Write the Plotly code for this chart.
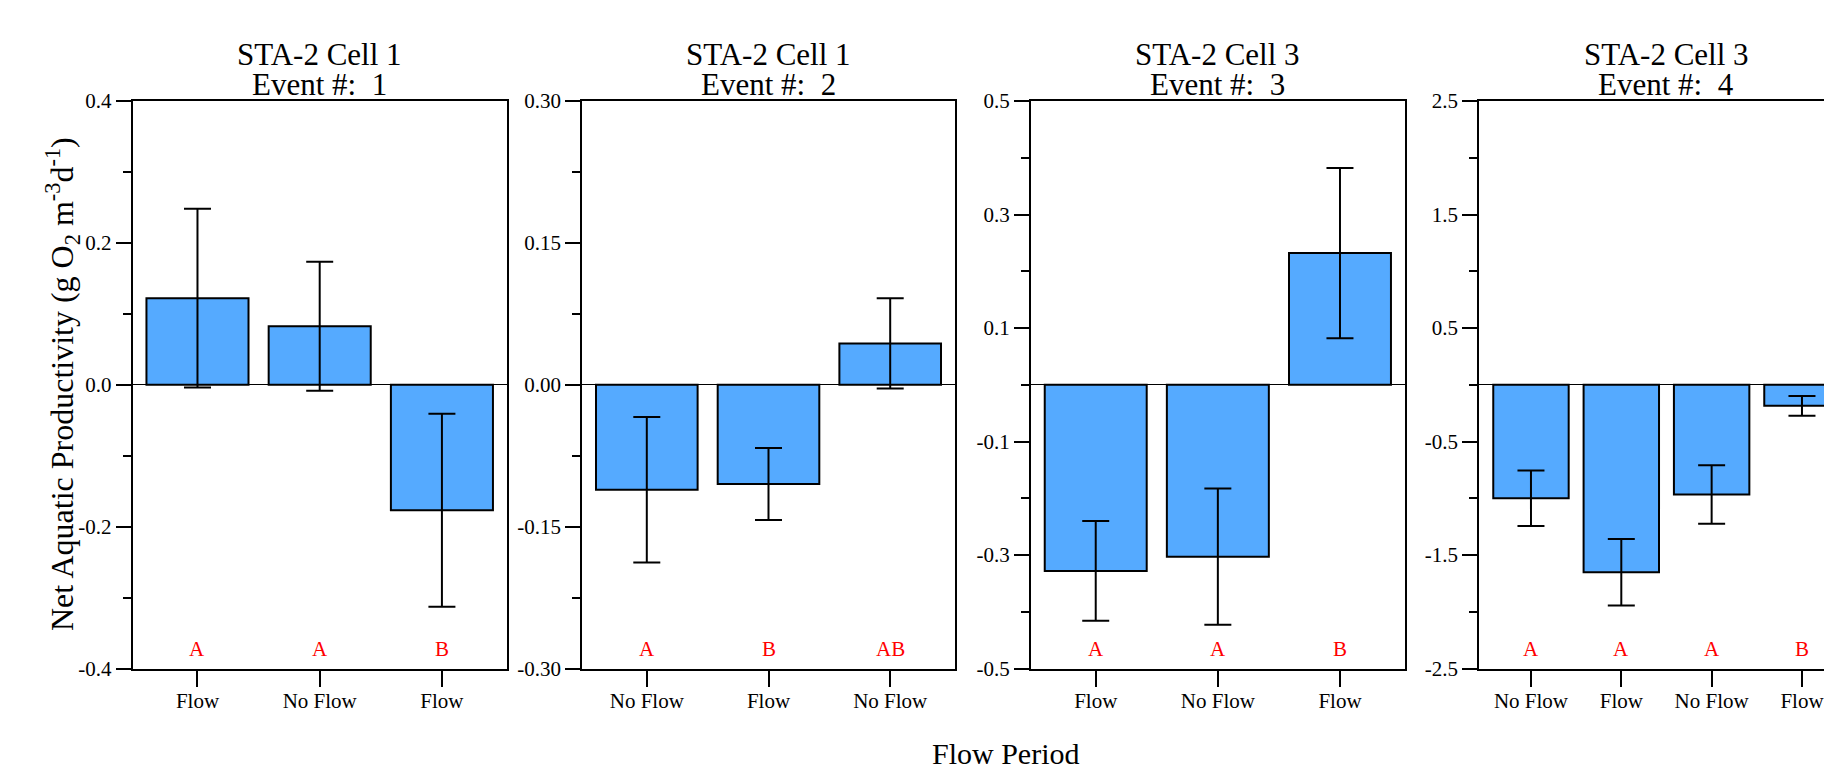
import plotly.graph_objects as go

# ---------------- data ----------------
TITLES = ["STA-2 Cell 1", "STA-2 Cell 1", "STA-2 Cell 3", "STA-2 Cell 3"]
EVENTS = [1, 2, 3, 4]

P1_LABELS = ["Flow", "No Flow", "Flow"]
P1_VALUES = [0.122, 0.0825, -0.177]
P1_ERR = [0.126, 0.091, 0.136]
P1_LETTERS = ["A", "A", "B"]

P2_LABELS = ["No Flow", "Flow", "No Flow"]
P2_VALUES = [-0.111, -0.105, 0.0437]
P2_ERR = [0.077, 0.038, 0.0477]
P2_LETTERS = ["A", "B", "AB"]

P3_LABELS = ["Flow", "No Flow", "Flow"]
P3_VALUES = [-0.328, -0.303, 0.232]
P3_ERR = [0.088, 0.120, 0.150]
P3_LETTERS = ["A", "A", "B"]

P4_LABELS = ["No Flow", "Flow", "No Flow", "Flow"]
P4_VALUES = [-1.000, -1.652, -0.967, -0.186]
P4_ERR = [0.245, 0.294, 0.257, 0.087]
P4_LETTERS = ["A", "A", "A", "B"]

P1_YTICKS = [-0.4, -0.2, 0.0, 0.2, 0.4]
P1_YTEXT = ["-0.4", "-0.2", "0.0", "0.2", "0.4"]
P2_YTICKS = [-0.30, -0.15, 0.0, 0.15, 0.30]
P2_YTEXT = ["-0.30", "-0.15", "0.00", "0.15", "0.30"]
P3_YTICKS = [-0.5, -0.3, -0.1, 0.1, 0.3, 0.5]
P3_YTEXT = ["-0.5", "-0.3", "-0.1", "0.1", "0.3", "0.5"]
P4_YTICKS = [-2.5, -1.5, -0.5, 0.5, 1.5, 2.5]
P4_YTEXT = ["-2.5", "-1.5", "-0.5", "0.5", "1.5", "2.5"]

P1_YMINOR = [-0.3, -0.1, 0.1, 0.3]
P2_YMINOR = [-0.225, -0.075, 0.075, 0.225]
P3_YMINOR = [-0.4, -0.2, 0.0, 0.2, 0.4]
P4_YMINOR = [-2.0, -1.0, 0.0, 1.0, 2.0]

Y_RANGES = [[-0.4, 0.4], [-0.3, 0.3], [-0.5, 0.5], [-2.5, 2.5]]

Y_TITLE = "Net Aquatic Productivity (g O<sub>2</sub> m<sup>-3</sup>d<sup>-1</sup>)"
X_TITLE = "Flow Period"

# ---------------- layout geometry ----------------
W, H = 1832, 769
S = 8.0  # page body margin offset (screen = figure + S)
FONT = "Liberation Serif, Times New Roman, serif"
BAR_COLOR = "#55AAFF"

panels = [
    (P1_LABELS, P1_VALUES, P1_ERR, P1_LETTERS, P1_YTICKS, P1_YTEXT, P1_YMINOR),
    (P2_LABELS, P2_VALUES, P2_ERR, P2_LETTERS, P2_YTICKS, P2_YTEXT, P2_YMINOR),
    (P3_LABELS, P3_VALUES, P3_ERR, P3_LETTERS, P3_YTICKS, P3_YTEXT, P3_YMINOR),
    (P4_LABELS, P4_VALUES, P4_ERR, P4_LETTERS, P4_YTICKS, P4_YTEXT, P4_YMINOR),
]

# panel edges in screen pixels
x_px = [(132.7, 506.7), (582.3, 954.7), (1031.0, 1404.7), (1479.3, 1832.0 + S)]
x_ranges = [[-0.53, 2.53], [-0.53, 2.53], [-0.53, 2.53], [-0.572, 3.421]]
top_px, bot_px = 101.0, 668.5
y_dom = [1 - (bot_px - S) / H, 1 - (top_px - S) / H]
title_x_px = [319.5, 768.0, 1217.0, 1666.0]


def fx(px):
    return min(1.0, (px - S) / W)


def fy(py):
    return 1 - (py - S) / H


fig = go.Figure()
layout = dict(
    width=W, height=H,
    margin=dict(l=0, r=0, t=0, b=0),
    paper_bgcolor="white", plot_bgcolor="white",
    showlegend=False,
    font=dict(family=FONT, color="black"),
)
annotations = []

for i, (labels, vals, errs, letters, yt, ytt, ymin) in enumerate(panels):
    n = i + 1
    xs = list(range(len(labels)))
    xa = "x" if n == 1 else f"x{n}"
    ya = "y" if n == 1 else f"y{n}"
    fig.add_trace(go.Bar(
        x=xs, y=vals, width=0.835,
        marker=dict(color=BAR_COLOR, line=dict(color="black", width=2)),
        error_y=dict(type="data", array=errs, visible=True, color="black",
                     thickness=2, width=13.5),
        xaxis=xa, yaxis=ya, hoverinfo="skip",
    ))
    axkey = "xaxis" if n == 1 else f"xaxis{n}"
    aykey = "yaxis" if n == 1 else f"yaxis{n}"
    layout[axkey] = dict(
        domain=[fx(x_px[i][0]), fx(x_px[i][1])],
        range=x_ranges[i],
        anchor=ya,
        tickmode="array", tickvals=xs, ticktext=labels,
        ticks="outside", ticklen=16, tickwidth=2, tickcolor="black",
        ticklabelstandoff=-4,
        tickfont=dict(family=FONT, size=21, color="black"),
        showline=True, linewidth=2, linecolor="black", mirror=True,
        showgrid=False, zeroline=False, fixedrange=True, automargin=False,
    )
    layout[aykey] = dict(
        domain=y_dom,
        range=Y_RANGES[i],
        anchor=xa,
        tickmode="array", tickvals=yt, ticktext=ytt,
        ticks="outside", ticklen=15, tickwidth=2, tickcolor="black",
        tickfont=dict(family=FONT, size=21, color="black"),
        minor=dict(tickmode="array", tickvals=ymin, ticks="outside",
                   ticklen=8, tickwidth=2, tickcolor="black", showgrid=False),
        showline=True, linewidth=2, linecolor="black",
        mirror=(n != 4),
        showgrid=False,
        zeroline=True, zerolinecolor="black", zerolinewidth=1,
        fixedrange=True, automargin=False,
    )
    # significance letters
    for xv, lt in zip(xs, letters):
        annotations.append(dict(
            x=xv, y=0.035, xref=xa, yref=f"{ya} domain",
            text=lt, showarrow=False, xanchor="center", yanchor="middle",
            font=dict(family=FONT, size=21, color="red"),
        ))
    # titles (two lines, tight spacing)
    annotations.append(dict(
        x=fx(title_x_px[i]), y=fy(55.0), xref="paper", yref="paper",
        text=TITLES[i], showarrow=False, xanchor="center", yanchor="middle",
        font=dict(family=FONT, size=31, color="black"),
    ))
    annotations.append(dict(
        x=fx(title_x_px[i]), y=fy(84.5), xref="paper", yref="paper",
        text=f"Event #:\u00a0 {EVENTS[i]}", showarrow=False,
        xanchor="center", yanchor="middle",
        font=dict(family=FONT, size=31, color="black"),
    ))

# axis titles
annotations.append(dict(
    x=fx(62.5), y=fy(384.5), xref="paper", yref="paper",
    text=Y_TITLE, textangle=-90, showarrow=False,
    xanchor="center", yanchor="middle",
    font=dict(family=FONT, size=32, color="black"),
))
annotations.append(dict(
    x=fx(1005.5), y=fy(753.0), xref="paper", yref="paper",
    text=X_TITLE, showarrow=False, xanchor="center", yanchor="middle",
    font=dict(family=FONT, size=30, color="black"),
))

layout["annotations"] = annotations
fig.update_layout(**layout)
fig.write_html("out.html")
